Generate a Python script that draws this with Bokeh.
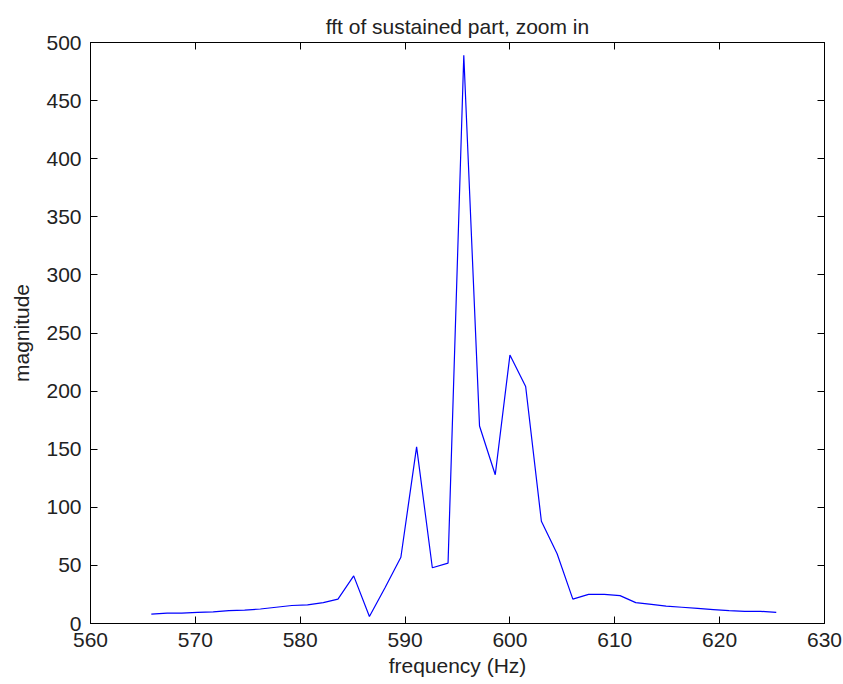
from bokeh.plotting import figure
from bokeh.models import LinearAxis, Range1d, FixedTicker
from bokeh.embed import file_html
from bokeh.resources import INLINE

freq_hz = [565.8, 567.3, 568.7, 570.2, 571.7, 573.2, 574.7, 576.2, 577.7, 579.2,
           580.7, 582.2, 583.6, 585.1, 586.6, 588.1, 589.6, 591.1, 592.6, 594.1,
           595.6, 597.1, 598.6, 600.0, 601.5, 603.0, 604.5, 606.0, 607.5, 609.0,
           610.5, 612.0, 613.5, 614.9, 616.4, 617.9, 619.4, 620.9, 622.4, 623.9,
           625.4]
magnitude = [8, 9, 9, 9.5, 10, 11, 11.5, 12.5, 14, 15.5,
             16, 18, 21, 41, 6, 31, 57, 152, 48, 52,
             489, 170, 128, 231, 204, 88, 60, 21, 25, 25,
             24, 18, 16.5, 15, 14, 13, 12, 11, 10.5, 10.5,
             9.5]
x_ticks = [560, 570, 580, 590, 600, 610, 620, 630]
y_ticks = [0, 50, 100, 150, 200, 250, 300, 350, 400, 450, 500]

FONT = "Liberation Sans"
FS = "21px"

p = figure(frame_width=734, frame_height=581, output_backend="svg",
           toolbar_location=None, x_range=Range1d(560, 630), y_range=Range1d(0, 500),
           min_border_left=90, min_border_right=19, min_border_top=42, min_border_bottom=61)
p.title.text = "fft of sustained part, zoom in"
p.title.align = "center"
p.title.text_font = FONT
p.title.text_font_size = FS
p.title.text_font_style = "normal"
p.title.text_color = "#222222"
p.title.offset = 0

p.xgrid.visible = False
p.ygrid.visible = False
p.outline_line_color = "black"
p.outline_line_width = 1
p.background_fill_color = "white"
p.border_fill_color = "white"

p.line(freq_hz, magnitude, line_color="#0000ff", line_width=1.2)

for ax in (p.xaxis[0], p.yaxis[0]):
    ax.major_tick_in = 7
    ax.major_tick_out = 0
    ax.minor_tick_in = 0
    ax.minor_tick_out = 0
    ax.axis_line_color = "black"
    ax.major_tick_line_color = "black"
    ax.major_label_text_font = FONT
    ax.major_label_text_font_size = FS
    ax.major_label_text_color = "#222222"
    ax.axis_label_text_font = FONT
    ax.axis_label_text_font_size = FS
    ax.axis_label_text_font_style = "normal"
    ax.axis_label_text_color = "#222222"

p.xaxis[0].ticker = FixedTicker(ticks=x_ticks)
p.yaxis[0].ticker = FixedTicker(ticks=y_ticks)
p.xaxis[0].axis_label = "frequency (Hz)"
p.yaxis[0].axis_label = "magnitude"
p.xaxis[0].major_label_standoff = 9
p.xaxis[0].axis_label_standoff = 4
p.yaxis[0].major_label_standoff = 9
p.yaxis[0].axis_label_standoff = 10

for loc, tk in (("right", y_ticks), ("above", x_ticks)):
    ax = LinearAxis(ticker=FixedTicker(ticks=tk))
    ax.major_tick_in = 7
    ax.major_tick_out = 0
    ax.minor_tick_in = 0
    ax.minor_tick_out = 0
    ax.major_label_text_font_size = "0px"
    ax.major_label_text_alpha = 0
    ax.major_label_standoff = 7 if loc == "above" else 0
    ax.axis_line_color = "black"
    p.add_layout(ax, loc)

open("out.html", "w").write(file_html(p, INLINE))
